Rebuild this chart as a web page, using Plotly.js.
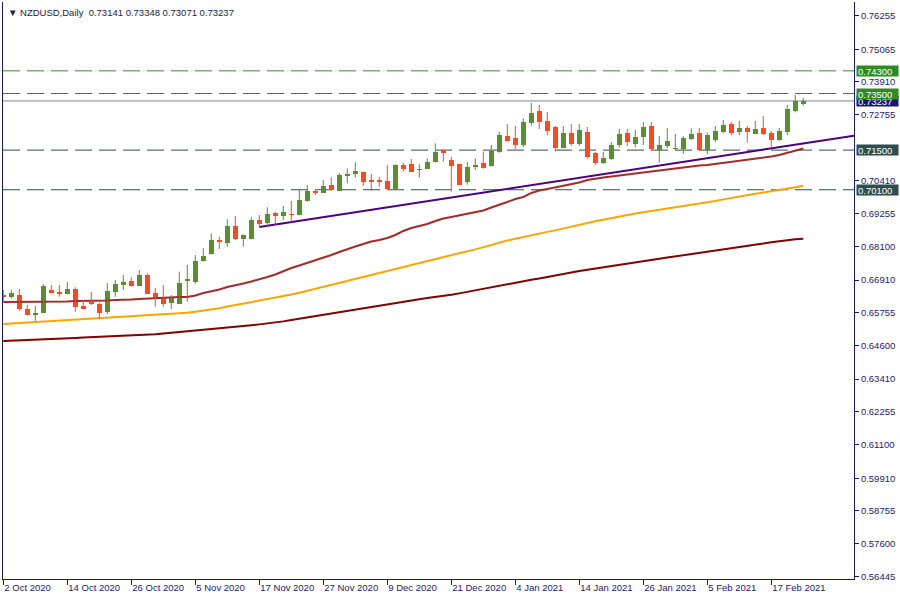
<!DOCTYPE html>
<html>
<head>
<meta charset="utf-8">
<script src="https://cdn.plot.ly/plotly-3.0.1.min.js"></script>
<style>html,body{margin:0;padding:0;background:#fff}#chart{width:900px;height:600px}</style>
</head>
<body>
<div id="chart"></div>
<script>
const symbol = 'NZDUSD,Daily';
const dates = [
'2020-10-02','2020-10-05','2020-10-06','2020-10-07','2020-10-08','2020-10-09','2020-10-12','2020-10-13','2020-10-14','2020-10-15',
'2020-10-16','2020-10-19','2020-10-20','2020-10-21','2020-10-22','2020-10-23','2020-10-26','2020-10-27','2020-10-28','2020-10-29',
'2020-10-30','2020-11-02','2020-11-03','2020-11-04','2020-11-05','2020-11-06','2020-11-09','2020-11-10','2020-11-11','2020-11-12',
'2020-11-13','2020-11-16','2020-11-17','2020-11-18','2020-11-19','2020-11-20','2020-11-23','2020-11-24','2020-11-25','2020-11-26',
'2020-11-27','2020-11-30','2020-12-01','2020-12-02','2020-12-03','2020-12-04','2020-12-07','2020-12-08','2020-12-09','2020-12-10',
'2020-12-11','2020-12-14','2020-12-15','2020-12-16','2020-12-17','2020-12-18','2020-12-21','2020-12-22','2020-12-23','2020-12-24',
'2020-12-28','2020-12-29','2020-12-30','2020-12-31','2021-01-04','2021-01-05','2021-01-06','2021-01-07','2021-01-08','2021-01-11',
'2021-01-12','2021-01-13','2021-01-14','2021-01-15','2021-01-18','2021-01-19','2021-01-20','2021-01-21','2021-01-22','2021-01-25',
'2021-01-26','2021-01-27','2021-01-28','2021-01-29','2021-02-01','2021-02-02','2021-02-03','2021-02-04','2021-02-05','2021-02-08',
'2021-02-09','2021-02-10','2021-02-11','2021-02-12','2021-02-15','2021-02-16','2021-02-17','2021-02-18','2021-02-19','2021-02-22',
'2021-02-23'];
const opens = [
0.66383,0.66323,0.66383,0.65889,0.65687,0.65758,0.66560,0.66489,0.66418,0.66595,
0.65995,0.66147,0.66076,0.65772,0.66489,0.66747,0.66878,0.66712,0.67090,0.66454,
0.66305,0.66111,0.66072,0.66860,0.66842,0.67595,0.67831,0.68326,0.68230,0.68820,
0.68361,0.68361,0.69032,0.68916,0.69269,0.69173,0.69255,0.69209,0.69714,0.70056,
0.69996,0.70268,0.70067,0.70597,0.70667,0.70727,0.70445,0.70445,0.70410,0.70116,
0.70975,0.71010,0.70798,0.70844,0.71070,0.71515,0.71151,0.71010,0.70364,0.70915,
0.71038,0.70939,0.71434,0.71999,0.71918,0.71681,0.72448,0.72882,0.72529,0.72317,
0.71586,0.72105,0.71716,0.72140,0.71399,0.71056,0.71187,0.71681,0.72105,0.71716,
0.71946,0.72352,0.71505,0.71656,0.71540,0.71529,0.71893,0.72105,0.71505,0.71858,
0.72140,0.72423,0.72140,0.72282,0.72080,0.72282,0.72105,0.71858,0.72140,0.72882,
0.73141];
const highs = [
0.66560,0.66560,0.66595,0.66030,0.65995,0.66772,0.66736,0.66736,0.66842,0.66655,
0.66207,0.66489,0.66111,0.66807,0.66913,0.67090,0.67008,0.67266,0.67150,0.66630,
0.66736,0.66383,0.67206,0.67443,0.67796,0.68033,0.68562,0.68442,0.69057,0.69173,
0.68520,0.69128,0.69209,0.69481,0.69325,0.69527,0.69703,0.70116,0.70268,0.70116,
0.70445,0.70540,0.70682,0.70858,0.71070,0.70745,0.70657,0.70551,0.70975,0.70999,
0.71056,0.71187,0.70999,0.71211,0.71741,0.71522,0.71268,0.71021,0.71091,0.71211,
0.71445,0.71681,0.72147,0.72423,0.72352,0.72624,0.73165,0.73094,0.72847,0.72352,
0.72352,0.72423,0.72423,0.72317,0.71434,0.71434,0.71787,0.72246,0.72246,0.72211,
0.72494,0.72494,0.71999,0.72271,0.72070,0.71999,0.72271,0.72282,0.72116,0.72352,
0.72564,0.72494,0.72529,0.72352,0.72529,0.72705,0.72176,0.72282,0.73094,0.73447,
0.73348];
const lows = [
0.66147,0.66267,0.65829,0.65659,0.65465,0.65737,0.66443,0.66323,0.66408,0.65793,
0.65878,0.66030,0.65535,0.65712,0.66323,0.66560,0.66676,0.66701,0.66418,0.65970,
0.65970,0.65889,0.66065,0.66147,0.66779,0.67559,0.67814,0.68008,0.68089,0.68326,
0.68089,0.68350,0.68796,0.68774,0.68856,0.69032,0.68972,0.69198,0.69679,0.69915,
0.69989,0.70063,0.70056,0.70328,0.70526,0.70233,0.70067,0.70208,0.70116,0.70109,
0.70752,0.70727,0.70526,0.70833,0.71063,0.71091,0.70032,0.70268,0.70279,0.70798,
0.70844,0.70922,0.71409,0.71798,0.71540,0.71611,0.72363,0.72246,0.72034,0.71445,
0.71565,0.71656,0.71656,0.71197,0.70964,0.71010,0.71151,0.71600,0.71646,0.71600,
0.71681,0.71469,0.71056,0.71565,0.71505,0.71363,0.71858,0.71469,0.71363,0.71787,
0.72094,0.72024,0.72034,0.71762,0.72070,0.72034,0.71586,0.71822,0.72034,0.72836,
0.73071];
const closes = [
0.66302,0.66443,0.65889,0.65677,0.65758,0.66701,0.66464,0.66429,0.66584,0.65970,
0.65899,0.66055,0.65758,0.66524,0.66772,0.66842,0.66712,0.67090,0.66429,0.66277,
0.66072,0.66312,0.66818,0.66948,0.67584,0.67761,0.68326,0.68255,0.68820,0.68350,
0.68502,0.69032,0.68891,0.69244,0.69184,0.69315,0.69219,0.69739,0.70056,0.70003,
0.70233,0.70092,0.70622,0.70667,0.70763,0.70374,0.70385,0.70385,0.70127,0.70975,
0.70844,0.70738,0.70833,0.71081,0.71423,0.71388,0.70939,0.70279,0.70915,0.70985,
0.70879,0.71462,0.72034,0.71833,0.71681,0.72494,0.72811,0.72504,0.72176,0.71586,
0.72105,0.71716,0.72211,0.71257,0.71035,0.71222,0.71681,0.72070,0.71787,0.71964,
0.72317,0.71533,0.71681,0.71822,0.71575,0.71928,0.72070,0.71505,0.72034,0.72176,
0.72388,0.72116,0.72282,0.72151,0.72246,0.72070,0.71858,0.72176,0.72953,0.73235,
0.73237];
const maFast = [
0.66136,0.66136,0.66136,0.66136,0.66136,0.66136,0.66136,0.66136,0.66154,0.66171,
0.66171,0.66171,0.66171,0.66189,0.66207,0.66207,0.66224,0.66242,0.66260,0.66277,
0.66277,0.66295,0.66312,0.66312,0.66365,0.66454,0.66507,0.66577,0.66666,0.66719,
0.66789,0.66860,0.66931,0.67019,0.67107,0.67231,0.67337,0.67425,0.67513,0.67602,
0.67708,0.67796,0.67902,0.68008,0.68096,0.68184,0.68273,0.68326,0.68396,0.68502,
0.68644,0.68750,0.68820,0.68891,0.68997,0.69085,0.69138,0.69191,0.69262,0.69315,
0.69368,0.69474,0.69562,0.69668,0.69774,0.69845,0.69986,0.70074,0.70127,0.70180,
0.70233,0.70304,0.70357,0.70445,0.70498,0.70533,0.70569,0.70604,0.70639,0.70675,
0.70710,0.70745,0.70798,0.70833,0.70869,0.70904,0.70939,0.70957,0.70975,0.71010,
0.71045,0.71081,0.71116,0.71151,0.71187,0.71222,0.71275,0.71328,0.71399,0.71469,
0.71558];
const maMid = [
0.65359,0.65376,0.65394,0.65412,0.65429,0.65447,0.65465,0.65475,0.65490,0.65507,
0.65525,0.65543,0.65560,0.65578,0.65596,0.65613,0.65631,0.65648,0.65670,0.65691,
0.65705,0.65723,0.65740,0.65754,0.65790,0.65825,0.65860,0.65917,0.65973,0.66026,
0.66076,0.66125,0.66171,0.66214,0.66277,0.66337,0.66397,0.66461,0.66531,0.66602,
0.66673,0.66747,0.66828,0.66902,0.66969,0.67037,0.67104,0.67174,0.67252,0.67316,
0.67397,0.67464,0.67535,0.67605,0.67672,0.67736,0.67799,0.67863,0.67930,0.67994,
0.68075,0.68156,0.68237,0.68305,0.68368,0.68435,0.68495,0.68555,0.68612,0.68665,
0.68725,0.68781,0.68848,0.68926,0.68990,0.69050,0.69110,0.69166,0.69216,0.69265,
0.69304,0.69354,0.69399,0.69445,0.69491,0.69530,0.69569,0.69608,0.69643,0.69703,
0.69760,0.69816,0.69873,0.69919,0.69961,0.70003,0.70046,0.70088,0.70138,0.70187,
0.70244];
const maSlow = [
0.64758,0.64773,0.64783,0.64794,0.64811,0.64826,0.64836,0.64847,0.64857,0.64868,
0.64879,0.64889,0.64900,0.64914,0.64928,0.64942,0.64956,0.64967,0.64977,0.64995,
0.65020,0.65045,0.65069,0.65094,0.65115,0.65140,0.65168,0.65196,0.65221,0.65249,
0.65281,0.65313,0.65345,0.65373,0.65408,0.65451,0.65497,0.65543,0.65599,0.65645,
0.65694,0.65740,0.65790,0.65843,0.65889,0.65928,0.65973,0.66019,0.66072,0.66115,
0.66154,0.66196,0.66235,0.66274,0.66305,0.66341,0.66390,0.66440,0.66496,0.66553,
0.66609,0.66662,0.66708,0.66761,0.66811,0.66864,0.66920,0.66969,0.67026,0.67075,
0.67128,0.67178,0.67227,0.67273,0.67312,0.67358,0.67400,0.67443,0.67482,0.67531,
0.67573,0.67619,0.67662,0.67704,0.67743,0.67785,0.67824,0.67867,0.67905,0.67944,
0.67983,0.68026,0.68064,0.68100,0.68146,0.68199,0.68248,0.68290,0.68326,0.68354,
0.68372];
const xTickDates = ['2020-10-02','2020-10-14','2020-10-26','2020-11-05','2020-11-17','2020-11-27','2020-12-09','2020-12-21','2021-01-04','2021-01-14','2021-01-26','2021-02-05','2021-02-17'];
const xTickLabels = ['2 Oct 2020','14 Oct 2020','26 Oct 2020','5 Nov 2020','17 Nov 2020','27 Nov 2020','9 Dec 2020','21 Dec 2020','4 Jan 2021','14 Jan 2021','26 Jan 2021','5 Feb 2021','17 Feb 2021'];
const yTickLabels = ['0.76255','0.75065','0.73910','0.72755','0.70410','0.69255','0.68100','0.66910','0.65755','0.64600','0.63410','0.62255','0.61100','0.59910','0.58755','0.57600','0.56445'];
const levelPrices = [0.74300, 0.73500, 0.71500, 0.70100];
const levelKinds = ['green', 'green', 'slate', 'slate'];
const trendDates = ['2020-11-17', '2021-02-23'];
const trendPrices = [0.68784, 0.71737];

// ---------- drawing ----------
const AX = '#1b1b6e';
const GREEN = '#5b8d33', RED = '#f14e25';
const FONT = 'Liberation Sans, Arial, sans-serif';
const idx = dates.map((d, i) => i);
const X0 = -0.04, X1 = 106.34;
const Y0 = 0.56351, Y1 = 0.76732;

function candleTraces(up) {
  const bx = [], bb = [], bh = [], wx = [], wy = [];
  for (let i = 0; i < dates.length; i++) {
    const isUp = closes[i] >= opens[i];
    if (isUp !== up) continue;
    const lo = Math.min(opens[i], closes[i]);
    const h = Math.max(Math.abs(closes[i] - opens[i]), 0.00036);
    bx.push(i); bb.push(lo); bh.push(h);
    wx.push(i, i, null); wy.push(lows[i], highs[i], null);
  }
  const col = up ? GREEN : RED;
  return [
    {type: 'scatter', mode: 'lines', x: wx, y: wy, line: {color: col, width: 1}, hoverinfo: 'skip', showlegend: false},
    {type: 'bar', x: bx, base: bb, y: bh, width: 0.64, marker: {color: col, line: {width: 0}}, hoverinfo: 'skip', showlegend: false}
  ];
}

const maLine = (vals, color) => ({type: 'scatter', mode: 'lines', x: idx, y: vals, line: {color: color, width: 2}, hoverinfo: 'skip', showlegend: false});

const ti0 = dates.indexOf(trendDates[0]), ti1 = dates.indexOf(trendDates[1]);
const slope = (trendPrices[1] - trendPrices[0]) / (ti1 - ti0);
const trend = {type: 'scatter', mode: 'lines', x: [ti0, X1], y: [trendPrices[0], trendPrices[0] + slope * (X1 - ti0)],
  line: {color: '#4b0082', width: 2}, hoverinfo: 'skip', showlegend: false};

const traces = [maLine(maSlow, '#800000'), maLine(maMid, '#ffa500'), maLine(maFast, '#a52a2a'), trend]
  .concat(candleTraces(true), candleTraces(false));

const last = dates.length - 1;
const cur = closes[last];
const shapes = levelPrices.map((p, k) => ({type: 'line', xref: 'paper', x0: 0, x1: 1, yref: 'y', y0: p, y1: p, layer: 'below',
  line: {color: levelKinds[k] === 'green' ? '#2e8b22' : '#2f4f4f', width: 1, dash: '17px,7px'}}));
shapes.push({type: 'line', xref: 'paper', x0: 0, x1: 1, yref: 'y', y0: cur, y1: cur, layer: 'below', line: {color: '#778899', width: 1}});

const boxAnn = (p, bg) => ({xref: 'paper', x: 1, xanchor: 'left', xshift: 2, yref: 'y', y: p, yanchor: 'middle',
  text: p.toFixed(5), showarrow: false, bgcolor: bg, font: {family: FONT, size: 9.5, color: '#ffffff'},
  width: 39, height: 8, borderpad: 1, align: 'left'});
// current-price box first, so the level boxes are drawn over it as in the reference
const annotations = [boxAnn(cur, '#191970')];
levelPrices.forEach((p, k) => annotations.push(boxAnn(p, levelKinds[k] === 'green' ? '#2e8b22' : '#2f4f4f')));
annotations.push({xref: 'paper', x: 0, xanchor: 'left', xshift: 3, yref: 'paper', y: 1, yanchor: 'top', yshift: -3,
  showarrow: false, align: 'left', font: {family: FONT, size: 9.5, color: '#1b1b50'},
  text: '\u25BC\u00a0' + symbol + '\u00a0\u00a0' + [opens[last], highs[last], lows[last], closes[last]].map(v => v.toFixed(5)).join(' ')});

const layout = {
  width: 900, height: 600,
  margin: {l: 3, r: 46, t: 2, b: 21, pad: 0},
  paper_bgcolor: '#ffffff', plot_bgcolor: '#ffffff',
  barmode: 'overlay', bargap: 0,
  showlegend: false,
  font: {family: FONT, size: 9.5, color: AX},
  xaxis: {range: [X0, X1], showgrid: false, zeroline: false, showline: true, linecolor: AX, linewidth: 1,
    ticks: 'outside', ticklen: 5, tickcolor: AX, tickwidth: 1,
    tickvals: xTickDates.map(d => dates.indexOf(d)), ticktext: xTickLabels,
    ticklabelposition: 'outside right', tickfont: {family: FONT, size: 9.5, color: AX}, fixedrange: true},
  yaxis: {range: [Y0, Y1], side: 'right', showgrid: false, zeroline: false, showline: true, mirror: true, linecolor: AX, linewidth: 1,
    ticks: 'outside', ticklen: 4, tickcolor: AX, tickwidth: 1,
    tickvals: yTickLabels.map(Number), ticktext: yTickLabels,
    tickfont: {family: FONT, size: 9.5, color: AX}, fixedrange: true},
  shapes: shapes,
  annotations: annotations
};

Plotly.newPlot('chart', traces, layout, {staticPlot: true, displayModeBar: false});
</script>
</body>
</html>
